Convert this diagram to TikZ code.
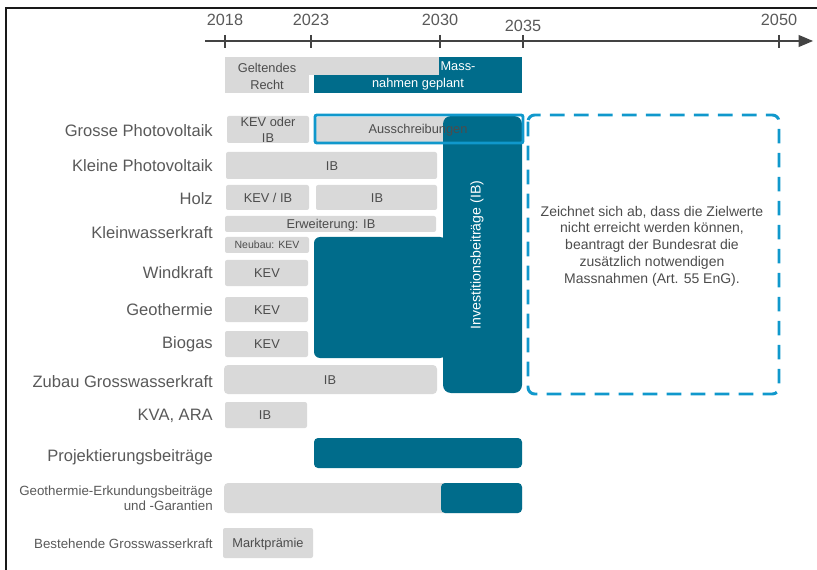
\documentclass[tikz,border=0pt]{standalone}
\usepackage{fontspec}
\setmainfont{Liberation Sans}
\usepackage{tikz}
\usetikzlibrary{arrows}
\definecolor{barfill}{HTML}{D9D9D9}
\definecolor{tealfill}{HTML}{006C8B}
\definecolor{lineblue}{HTML}{1098CC}
\definecolor{txtgray}{HTML}{595959}
\tikzset{
  rowlabel/.style={anchor=east,inner sep=0pt,text=txtgray,font=\fontsize{12.4}{14}\selectfont},
  smalllabel/.style={anchor=east,inner sep=0pt,text=txtgray,align=right,font=\fontsize{10}{11.3}\selectfont},
  boxtext/.style={inner sep=0pt,text=txtgray!85!black,align=center,font=\fontsize{9.6}{12}\selectfont},
  yearlabel/.style={inner sep=0pt,text=txtgray,font=\fontsize{12.2}{14}\selectfont},
  graybar/.style={fill=barfill,rounded corners=1.5pt},
  tealbar/.style={fill=tealfill},
  axisline/.style={line width=1.5pt,txtgray!75!black}
}
\begin{document}
\begin{tikzpicture}[x=0.75pt,y=-0.75pt]
    \useasboundingbox (0,0) rectangle (817,570);
    % frame
    \draw[line width=1.6pt,black!90] (6,570) -- (6,8) -- (817,8);

    % time axis
    \draw[axisline,-triangle 45] (205,41) -- (813,41);
    \foreach \x/\yr/\dy in {225/2018/0,311/2023/0,440/2030/0,523/2035/6,779/2050/0}{
        \draw[axisline,line width=1.3pt] (\x,35) -- (\x,48);
        \node[yearlabel] (y\yr) at (\x,20+\dy) {\yr};
    }

    % legend
    \fill[fill=barfill] (225,57) rectangle (440,75);
    \fill[fill=barfill] (225,75) rectangle (309,93);
    \fill[tealbar] (439,57) rectangle (522,93);
    \fill[tealbar] (314,75) rectangle (440,93);
    \node[boxtext,font=\fontsize{9.6}{12.7}\selectfont] (recht) at (267,76) {Geltendes\\Recht};
    \node[boxtext,text=white] (mass) at (458,66) {Mass-};
    \node[boxtext,text=white] (geplant) at (418,84) {nahmen geplant};

    % row labels
    \node[rowlabel] (gpv) at (213,131) {Grosse Photovoltaik};
    \node[rowlabel] (kpv) at (213,166) {Kleine Photovoltaik};
    \node[rowlabel] (holz) at (213,199) {Holz};
    \node[rowlabel] (kwk) at (213,233) {Kleinwasserkraft};
    \node[rowlabel] (wind) at (213,273) {Windkraft};
    \node[rowlabel] (geo) at (213,310) {Geothermie};
    \node[rowlabel] (bio) at (213,344) {Biogas};
    \node[rowlabel] (zubau) at (213,382) {Zubau Grosswasserkraft};
    \node[rowlabel] (kva) at (213,416) {KVA, ARA};
    \node[rowlabel] (proj) at (213,457) {Projektierungsbeiträge};
    \node[smalllabel] (erk) at (213,498) {Geothermie-Erkundungsbeiträge\\und -Garantien};
    \node[smalllabel] (best) at (213,544) {Bestehende Grosswasserkraft};

    % grey bars
    \fill[graybar] (227,116) rectangle (309,143);
    \fill[graybar] (316,117) rectangle (520,142);
    \fill[graybar] (226,152) rectangle (437,179);
    \fill[graybar] (226,185) rectangle (309,210);
    \fill[graybar] (316,185) rectangle (437,210);
    \fill[graybar] (225,216) rectangle (436,232);
    \fill[graybar] (225,237) rectangle (309,253);
    \fill[graybar] (225,260) rectangle (308,286);
    \fill[graybar] (225,297) rectangle (308,322);
    \fill[graybar] (225,331) rectangle (308,357);
    \fill[graybar,rounded corners=3pt] (224,365) rectangle (437,394);
    \fill[graybar] (225,402) rectangle (307,428);
    \fill[graybar,rounded corners=3pt] (224,483) rectangle (522,513);
    \fill[graybar] (223,528) rectangle (313,558);

    % planned measures
    \fill[tealbar,rounded corners=4.5pt] (314,237) rectangle (446,358);
    \fill[tealbar,rounded corners=6pt] (443,116) rectangle (522,393);
    \fill[tealbar,rounded corners=3pt] (314,438) rectangle (522,468);
    \fill[tealbar,rounded corners=3pt] (441,483) rectangle (522,513);

    % bar texts
    \node[boxtext] (kevoder) at (268,130) {KEV oder\\IB};
    \node[boxtext] (aus) at (418,130) {Ausschreibungen};
    \node[boxtext] (ibk) at (332,166) {IB};
    \node[boxtext] (kevib) at (268,198) {KEV / IB};
    \node[boxtext] (ibh) at (377,198) {IB};
    \node[boxtext] (erw) at (331,225) {Erweiterung: IB};
    \node[boxtext,font=\fontsize{7.9}{9}\selectfont] (neubau) at (267,245) {Neubau: KEV};
    \node[boxtext] (kevw) at (267,273) {KEV};
    \node[boxtext] (kevg) at (267,310) {KEV};
    \node[boxtext] (kevb) at (267,344) {KEV};
    \node[boxtext] (ibz) at (330,380) {IB};
    \node[boxtext] (ibkva) at (265,415) {IB};
    \node[boxtext] (markt) at (268,544) {Marktprämie};
    \node[boxtext,text=white,rotate=90,font=\fontsize{10.6}{12}\selectfont] (invest) at (477,255) {Investitionsbeiträge (IB)};

    % outlines
    \draw[lineblue,line width=2.2pt,rounded corners=1.5pt] (315,115) rectangle (523,143);
    \draw[lineblue,line width=2.2pt,rounded corners=5pt,dash pattern=on 11pt off 7pt] (528,115) rectangle (779,394);
    \node[boxtext,font=\fontsize{10.5}{12.6}\selectfont] (ziel) at (652,246) {Zeichnet sich ab, dass die Zielwerte\\nicht erreicht werden können,\\beantragt der Bundesrat die\\zusätzlich notwendigen\\Massnahmen (Art. 55 EnG).};
\end{tikzpicture}
\end{document}
